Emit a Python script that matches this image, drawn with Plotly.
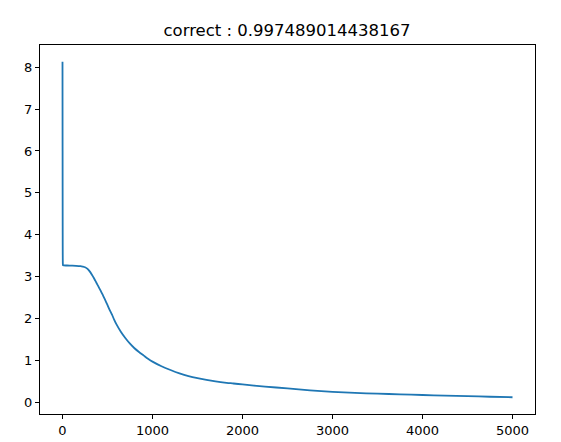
import plotly.graph_objects as go

# iteration / loss values
iterations = [0, 1, 2, 4, 6, 50, 100, 150, 200, 225, 250, 275, 300, 325, 350, 375, 400, 425, 450, 475, 500,
              525, 550, 575, 600, 650, 700, 750, 800, 850, 900, 950, 1000, 1100, 1200, 1300, 1400, 1500,
              1600, 1700, 1800, 1900, 2000, 2250, 2500, 2750, 3000, 3250, 3500, 3750, 4000, 4250, 4500, 4750, 5000]
loss = [8.13, 6.0, 4.2, 3.3, 3.27, 3.265, 3.262, 3.258, 3.25, 3.24, 3.225, 3.19, 3.13, 3.05, 2.96, 2.86, 2.76, 2.66, 2.55, 2.44, 2.32,
        2.20, 2.09, 1.97, 1.86, 1.68, 1.53, 1.40, 1.29, 1.20, 1.12, 1.04, 0.97, 0.86, 0.77, 0.69, 0.625, 0.575,
        0.535, 0.50, 0.47, 0.448, 0.425, 0.375, 0.33, 0.285, 0.248, 0.225, 0.205, 0.19, 0.174, 0.16, 0.145, 0.132, 0.12]
title_text = "correct : 0.997489014438167"
x_ticks = [0, 1000, 2000, 3000, 4000, 5000]
y_ticks = [0, 1, 2, 3, 4, 5, 6, 7, 8]

fig = go.Figure()
fig.add_trace(go.Scatter(x=iterations, y=loss, mode="lines", line_shape="spline",
                         line=dict(color="#1f77b4", width=1.8, smoothing=0.6), showlegend=False))

axis_common = dict(showgrid=False, zeroline=False, showline=True, linecolor="black",
                   linewidth=1, mirror=True, ticks="outside", ticklen=4, tickwidth=1,
                   tickcolor="black", tickfont=dict(family="DejaVu Sans", size=13, color="black"))

W, H = 553, 434
fig.update_layout(
    width=W, height=H,
    margin=dict(l=32, r=26, t=37, b=28, autoexpand=False),
    paper_bgcolor="white", plot_bgcolor="white",
    title=dict(text=title_text, x=279 / W, xanchor="center",
               y=1 - 22 / H, yanchor="middle", yref="container", xref="container",
               font=dict(family="DejaVu Sans", size=16.5, color="black")),
    xaxis=dict(range=[-250, 5250], tickvals=x_ticks, ticktext=[str(v) for v in x_ticks], **axis_common),
    yaxis=dict(range=[-0.28, 8.53], tickvals=y_ticks, ticktext=[str(v) for v in y_ticks], **axis_common),
)

fig.write_html("out.html")
